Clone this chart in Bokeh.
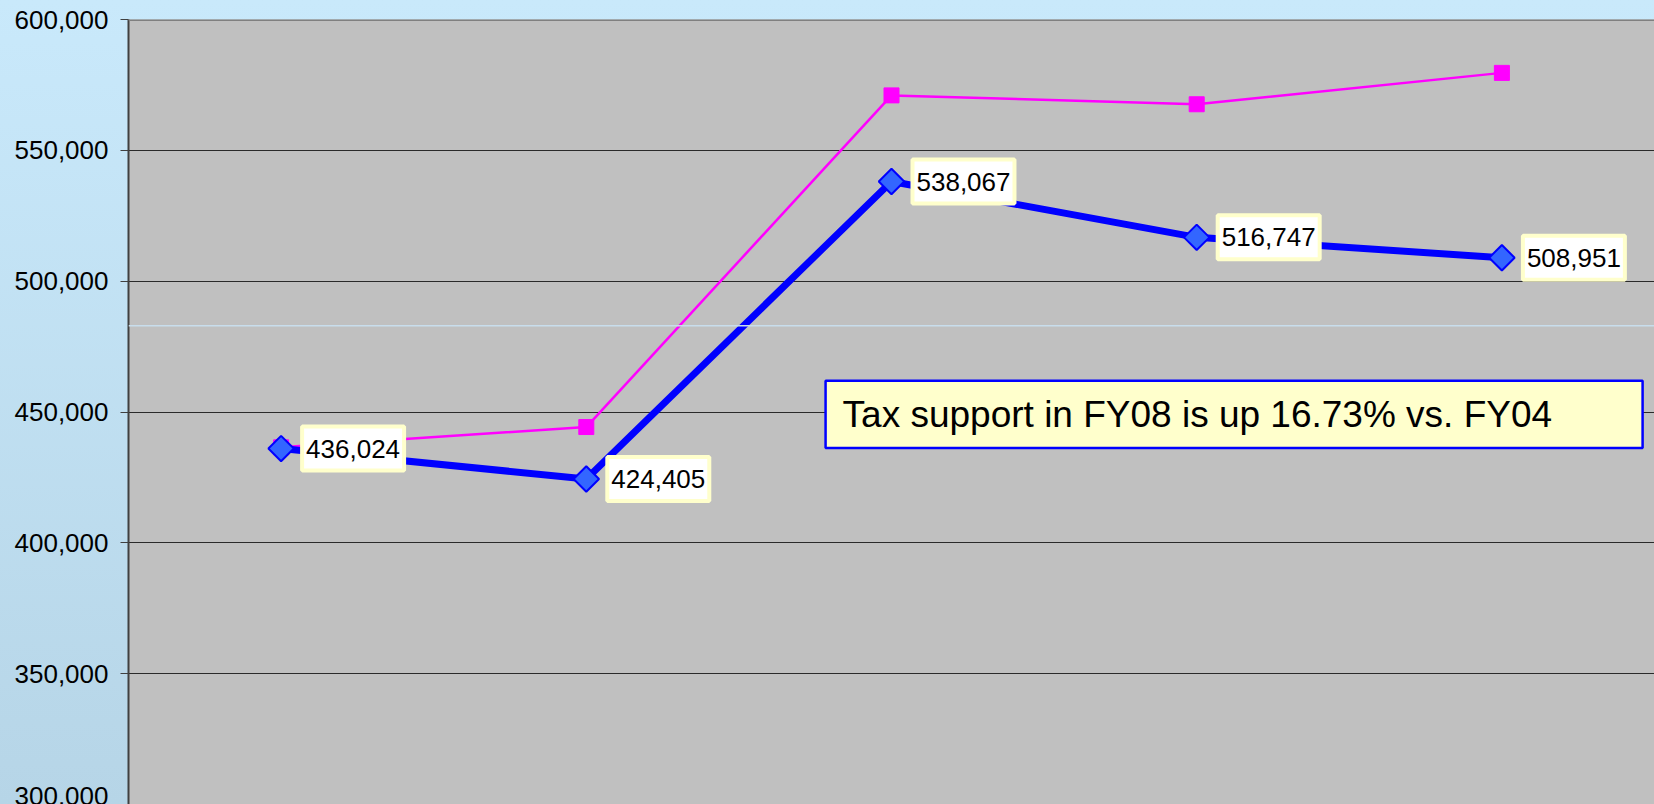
import numpy as np
from bokeh.plotting import figure
from bokeh.models import (Range1d, FixedTicker, NumeralTickFormatter, Label,
                          BoxAnnotation, Span)
from bokeh.core.properties import value
from bokeh.embed import file_html
from bokeh.resources import INLINE

# ---- data ----
categories = ["FY04", "FY05", "FY06", "FY07", "FY08"]
tax_support = [436024, 424405, 538067, 516747, 508951]
comparison = [436500, 444250, 571000, 567600, 579600]
y_ticks = [300000, 350000, 400000, 450000, 500000, 550000, 600000]
note_text = "Tax support in FY08 is up 16.73% vs. FY04"

FONT = "Liberation Sans"

xs = np.arange(len(categories)) + 0.5

p = figure(width=1654, height=804, output_backend="svg", toolbar_location=None,
           x_range=Range1d(0, len(categories)), y_range=Range1d(300000, 600000),
           min_border_left=128, min_border_top=19, min_border_right=0,
           min_border_bottom=0,
           background_fill_color="#C0C0C0",
           border_fill_color=None,
           styles={"background": "linear-gradient(to bottom, #C9E9FB, #B6D5E7)"})
p.outline_line_color = None

p.xaxis.visible = False
p.xgrid.visible = False

yax = p.yaxis[0]
yax.ticker = FixedTicker(ticks=y_ticks)
yax.formatter = NumeralTickFormatter(format="0,0")
yax.major_label_text_font = FONT
yax.major_label_text_font_size = "26px"
yax.major_label_text_color = "#000000"
yax.axis_line_color = "#404040"
yax.axis_line_width = 2
yax.major_tick_line_color = "#404040"
yax.major_tick_out = 8
yax.major_tick_in = 0
yax.minor_tick_line_color = None
yax.major_label_standoff = 12

p.ygrid.ticker = FixedTicker(ticks=y_ticks)
p.ygrid.grid_line_color = "#2A2A2A"
p.ygrid.grid_line_width = 1

# decorations
p.add_layout(Span(location=600000, dimension="width", line_color="#808080", line_width=3))
p.add_layout(Span(location=482950, dimension="width", line_color="#C8DDEC", line_width=1.5))

# comparison series (magenta)
p.line(xs, comparison, line_color="#FF00FF", line_width=2.5)
p.scatter(xs, comparison, marker="square", size=15, fill_color="#FF00FF", line_color="#FF00FF")

# tax support series (blue)
p.line(xs, tax_support, line_color="#0000FF", line_width=7)
p.scatter(xs, tax_support, marker="square", angle=np.pi / 4, size=18,
          fill_color="#3366FF", line_color="#0000FF", line_width=2)

for xv, yv in zip(xs, tax_support):
    p.add_layout(Label(x=xv, y=yv, text=f"{yv:,}", x_offset=21,
                       text_baseline="middle", text_align="left",
                       text_font=FONT, text_font_size="26px", text_color="#000000",
                       background_fill_color="#FFFFFF", background_fill_alpha=1,
                       border_line_color="#FFFFCC", border_line_width=4,
                       padding=(4, 4, 13, 13)))

# note box
p.add_layout(BoxAnnotation(left=2.284, right=4.961, top=461900, bottom=436200,
                           fill_color="#FFFFCC", fill_alpha=1,
                           line_color="#0000FF", line_width=2.5, line_alpha=1))
p.add_layout(Label(x=2.284, y=449050, text=note_text, x_offset=17,
                   text_baseline="middle", text_align="left",
                   text_font=FONT, text_font_size="37px", text_color="#000000"))

open("out.html", "w").write(file_html(p, INLINE))
